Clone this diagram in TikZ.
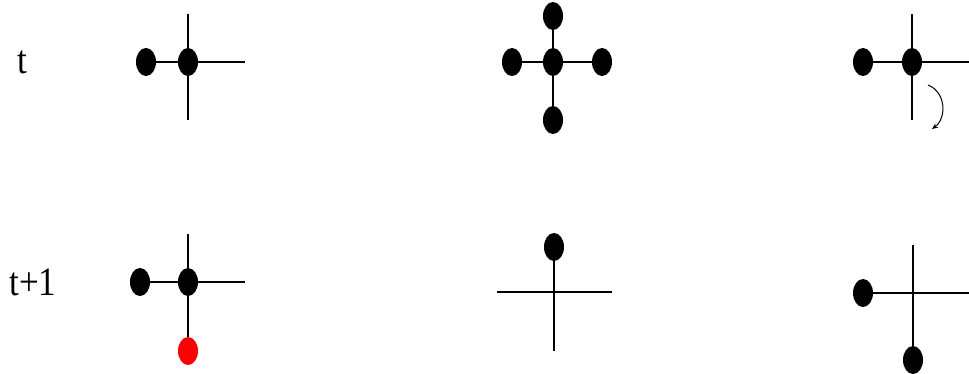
\documentclass[tikz,border=0pt]{standalone}
\usepackage{fontspec}
\setmainfont{Liberation Serif}
\usetikzlibrary{shapes.geometric,arrows.meta}
\begin{document}
\begin{tikzpicture}[x=1pt,y=-1pt,
  dot/.style={ellipse,fill=black,draw=none,minimum width=20pt,minimum height=28pt,inner sep=0pt},
  reddot/.style={dot,fill=red},
  ln/.style={line width=1.8pt,black},
  lbl/.style={font=\fontsize{35}{38}\selectfont,inner sep=0pt,yscale=1.15}]
\useasboundingbox (0,0) rectangle (969,373);
% labels
\node[lbl] (lt) at (22,62) {t};
\node[lbl] (lt1) at (33,282) {t+1};
% panel 1
\coordinate (p1t) at (188,14);
\coordinate (p1b) at (188,120);
\coordinate (p1r) at (245,62);
\draw[ln] (p1t) -- (p1b);
\node[dot] (p1c) at (188,62) {};
\node[dot] (p1l) at (146,62) {};
\draw[ln] (p1l) -- (p1c) -- (p1r);
% panel 2
\node[dot] (p2c) at (553,62) {};
\node[dot] (p2u) at (553,16) {};
\node[dot] (p2l) at (512,62) {};
\node[dot] (p2r) at (602,62) {};
\node[dot] (p2d) at (553,120) {};
\draw[ln] (p2u) -- (p2c) -- (p2d);
\draw[ln] (p2l) -- (p2c) -- (p2r);
% panel 3
\coordinate (p3t) at (912,14);
\coordinate (p3b) at (912,120);
\coordinate (p3r) at (969,62);
\draw[ln] (p3t) -- (p3b);
\node[dot] (p3c) at (912,62) {};
\node[dot] (p3l) at (863,62) {};
\draw[ln] (p3l) -- (p3c) -- (p3r);
\coordinate (a1) at (928,85);
\coordinate (a2) at (932,129);
\draw[line width=1pt,-{Stealth[length=6pt,width=5pt]}] (a1) .. controls (946,92) and (947,118) .. (a2);
% panel 4
\coordinate (p4t) at (188,234);
\coordinate (p4r) at (245,282);
\node[dot] (p4c) at (188,282) {};
\node[dot] (p4l) at (140,282) {};
\node[reddot] (p4d) at (188,351) {};
\draw[ln] (p4t) -- (p4c) -- (p4d);
\draw[ln] (p4l) -- (p4c) -- (p4r);
% panel 5
\coordinate (p5c) at (554,292);
\coordinate (p5l) at (497,292);
\coordinate (p5r) at (612,292);
\coordinate (p5b) at (554,351);
\node[dot] (p5u) at (554,247) {};
\draw[ln] (p5u) -- (p5c) -- (p5b);
\draw[ln] (p5l) -- (p5r);
% panel 6
\coordinate (p6c) at (913,293);
\coordinate (p6t) at (913,245);
\coordinate (p6r) at (969,293);
\node[dot] (p6l) at (863,293) {};
\node[dot] (p6d) at (913,360) {};
\draw[ln] (p6t) -- (p6c) -- (p6d);
\draw[ln] (p6l) -- (p6c) -- (p6r);
\end{tikzpicture}
\end{document}
